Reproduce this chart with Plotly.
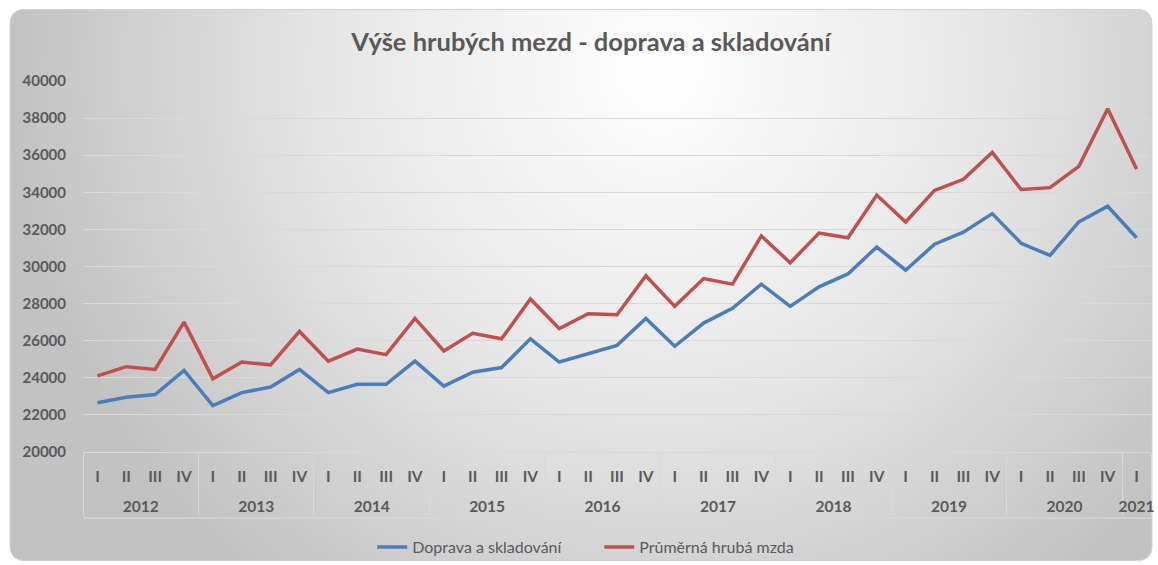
import base64
import plotly.graph_objects as go

# ---- data ----
years = ["2012", "2013", "2014", "2015", "2016", "2017", "2018", "2019", "2020", "2021"]
quarters = ["I", "II", "III", "IV"]
n_quarters_last = 1  # 2021 has only Q I

doprava = [22650, 22950, 23100, 24400,
           22500, 23200, 23500, 24450,
           23200, 23650, 23650, 24900,
           23550, 24300, 24550, 26100,
           24850, 25300, 25750, 27200,
           25700, 26950, 27750, 29050,
           27850, 28900, 29600, 31050,
           29800, 31200, 31850, 32850,
           31250, 30600, 32400, 33250,
           31550]
prumer = [24100, 24600, 24450, 27000,
          23950, 24850, 24700, 26500,
          24900, 25550, 25250, 27200,
          25450, 26400, 26100, 28250,
          26650, 27450, 27400, 29500,
          27850, 29350, 29050, 31650,
          30200, 31800, 31550, 33850,
          32400, 34100, 34700, 36150,
          34150, 34250, 35400, 38500,
          35250]

x_years, x_quarters = [], []
for y in years:
    qs = quarters if y != years[-1] else quarters[:n_quarters_last]
    for q in qs:
        x_years.append("<br>" + y)   # leading break pushes year row lower
        x_quarters.append(q)
n_pts = len(x_quarters)

# ---- geometry (pixels) ----
W, H = 1158, 565
L, R, T, B = 82.5, 1151.5, 81, 452
pw, ph = R - L, B - T

# background: rounded frame with radial gradient (svg)
svg = f'''<svg xmlns="http://www.w3.org/2000/svg" width="{W}" height="{H}" viewBox="0 0 {W} {H}" preserveAspectRatio="none">
<defs><radialGradient id="g" gradientUnits="userSpaceOnUse" cx="660" cy="70" r="650" fx="660" fy="70">
<stop offset="0" stop-color="#ffffff"/><stop offset="0.5" stop-color="#e7e7e7"/><stop offset="1" stop-color="#c2c2c2"/>
</radialGradient></defs>
<rect x="0" y="0" width="{W}" height="{H}" fill="#ffffff"/>
<rect x="9.5" y="9.5" width="1143" height="551" rx="13" ry="13" fill="url(#g)" stroke="#d0d0d0" stroke-width="1"/>
</svg>'''
src = "data:image/svg+xml;base64," + base64.b64encode(svg.encode()).decode()

font_fam = "Lato, 'Open Sans', sans-serif"
grey = "#595959"

fig = go.Figure()
fig.add_trace(go.Scatter(x=[x_years, x_quarters], y=doprava, mode="lines",
                         name="Doprava a skladování",
                         line=dict(color="#4a7ebb", width=3.5)))
fig.add_trace(go.Scatter(x=[x_years, x_quarters], y=prumer, mode="lines",
                         name="Průměrná hrubá mzda",
                         line=dict(color="#c0504d", width=3.5)))

fig.update_layout(
    width=W, height=H,
    margin=dict(l=L, r=W - R, t=T, b=H - B, pad=0, autoexpand=False),
    paper_bgcolor="white", plot_bgcolor="rgba(0,0,0,0)",
    title=dict(text="<b>Výše hrubých mezd - doprava a skladování</b>",
               x=591 / W, xref="container", xanchor="center",
               y=1 - 42 / H, yanchor="middle",
               font=dict(family=font_fam, size=25.5, color=grey)),
    font=dict(family=font_fam, color=grey),
    showlegend=True,
    legend=dict(orientation="h", x=(372 - L) / pw, xanchor="left",
                y=(B - 547) / ph, yanchor="middle",
                font=dict(size=16, color=grey), bgcolor="rgba(0,0,0,0)",
                entrywidth=182, entrywidthmode="pixels"),
    images=[dict(source=src, xref="paper", yref="paper",
                 x=-L / pw, y=B / ph, sizex=W / pw, sizey=H / ph,
                 xanchor="left", yanchor="top", sizing="stretch", layer="below")],
    shapes=[dict(type="line", xref="paper", yref="paper",
                 x0=0, x1=1, y0=(B - 518) / ph, y1=(B - 518) / ph,
                 line=dict(color="#d9d9d9", width=1))],
)

fig.update_yaxes(range=[20000, 40000], dtick=2000, tickformat="d",
                 showgrid=True, gridcolor="#d9d9d9", gridwidth=1,
                 zeroline=False, showline=False, ticks="", automargin=False,
                 ticklabelstandoff=16,
                 tickfont=dict(family=font_fam, size=15, color=grey, weight="bold"))
fig.update_xaxes(type="multicategory", range=[-0.5, n_pts - 0.5], automargin=False,
                 showgrid=False, showline=True,
                 linecolor="#d9d9d9", linewidth=1, ticks="",
                 showdividers=True, dividercolor="#d9d9d9", dividerwidth=1,
                 ticklabelstandoff=10,
                 tickfont=dict(family=font_fam, size=15.5, color=grey, weight="bold"))

fig.write_html("out.html", include_plotlyjs=True,
               config={"displayModeBar": False},
               post_script="document.body.style.margin='0';document.body.style.overflow='hidden';")
